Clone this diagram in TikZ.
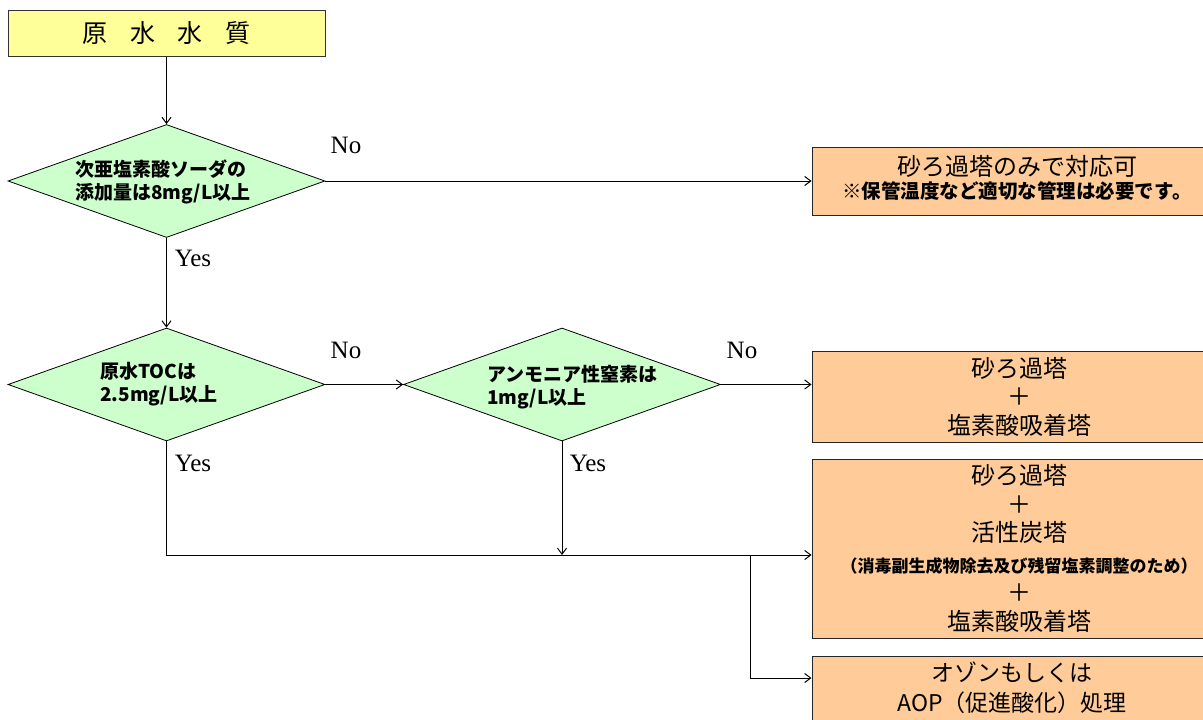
\documentclass[tikz,border=0pt]{standalone}
\usepackage{fontspec}
\setmainfont{Liberation Serif}
\newfontfamily\jp{Noto Sans CJK JP}
\usetikzlibrary{shapes.geometric,arrows.meta}
\definecolor{yel}{HTML}{FFFF99}
\definecolor{grn}{HTML}{CCFFCC}
\definecolor{org}{HTML}{FFCC99}
\begin{document}
\begin{tikzpicture}[x=1pt,y=-1pt,
 line/.style={draw=black, line width=1pt},
 arr/.style={line, -{Straight Barb[length=6pt,width=9pt]}},
 startbox/.style={draw=black!80, line width=1pt, fill=yel, minimum width=317pt, minimum height=46pt, inner sep=0pt},
 dec/.style={diamond, draw=black, line width=0.8pt, fill=grn, minimum width=317pt, minimum height=113pt, inner sep=0pt},
 res/.style={draw=black!85, line width=1pt, fill=org, minimum width=414pt, inner sep=0pt, align=center, font=\jp\fontsize{24}{28.5}\selectfont},
 dtext/.style={anchor=west, align=left, font=\jp\bfseries\fontsize{19}{23}\selectfont, inner sep=0pt},
 lab/.style={font=\fontsize{25}{28}\selectfont, inner sep=0pt}
]
\useasboundingbox (0,0) rectangle (1203,720);

\node[startbox] (start) at (166.5,33) {\jp\fontsize{25}{25}\selectfont 原\hspace{0.9em}水\hspace{0.9em}水\hspace{0.9em}質};

\node[dec] (d1) at (166.5,181) {};
\node[dtext] (t1) at (75,181.5) {次亜塩素酸ソーダの\\添加量は8mg/L以上};

\node[dec] (d2) at (166.5,384.5) {};
\node[dtext] (t2) at (100,384) {原水TOCは\\2.5mg/L以上};

\node[dec] (d3) at (562,384.5) {};
\node[dtext] (t3) at (487,387) {アンモニア性窒素は\\1mg/L以上};

\node[res, minimum height=68pt] (b1) at (1019,181) {};
\node[res, draw=none, fill=none, minimum width=0pt] (t1b) at (1017,178) {砂ろ過塔のみで対応可\\[-5pt]{\bfseries\fontsize{19.5}{22}\selectfont ※保管温度など適切な管理は必要です。}};
\node[res, minimum height=91pt] (b2) at (1019,396.5) {砂ろ過塔\\＋\\塩素酸吸着塔};
\node[res, minimum height=179pt] (b3) at (1019,548.5) {砂ろ過塔\\＋\\活性炭塔\\[2pt]{\bfseries\fontsize{17}{18}\selectfont（消毒副生成物除去及び残留塩素調整のため）}\\[1pt]＋\\塩素酸吸着塔};
\node[res, minimum height=90pt] (b4) at (1019,701) {};
\node[res, draw=none, fill=none, minimum width=0pt, font=\jp\fontsize{23}{30}\selectfont] (t4) at (1012,688) {オゾンもしくは\\AOP（促進酸化）処理};

\node[lab] (no1) at (346,145) {No};
\node[lab] (yes1) at (193,258) {Yes};
\node[lab] (no2) at (346,350) {No};
\node[lab] (no3) at (742,350) {No};
\node[lab] (yes2) at (193,463) {Yes};
\node[lab] (yes3) at (588,463) {Yes};

\coordinate (bus) at (166.5,555);
\coordinate (br) at (750,555);

\draw[arr] (start) -- (d1);
\draw[arr] (d1.east) -- (d1.east -| b1.west);
\draw[arr] (d1) -- (d2);
\draw[arr] (d2) -- (d3);
\draw[arr] (d3.east) -- (d3.east -| b2.west);
\draw[arr] (d2.south) -- (bus) -- (bus -| b3.west);
\draw[arr] (d3.south) -- (d3.south |- bus);
\draw[arr] (br) |- ([yshift=23pt]b4.west);
\end{tikzpicture}
\end{document}
